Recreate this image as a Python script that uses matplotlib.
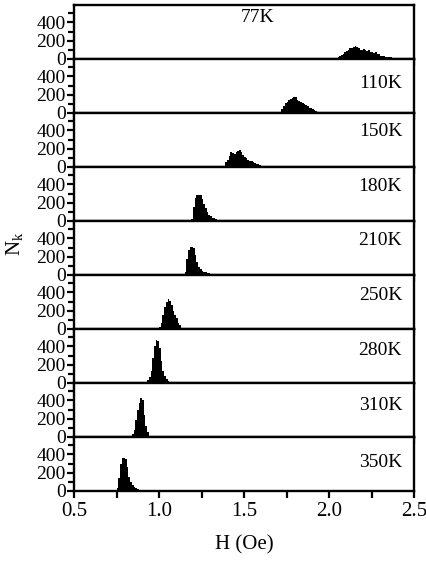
import numpy as np
import matplotlib
matplotlib.use("Agg")
import matplotlib.pyplot as plt
from matplotlib.ticker import MultipleLocator

plt.rcParams['font.family'] = ['Liberation Serif', 'DejaVu Serif']
plt.rcParams['mathtext.fontset'] = 'custom'
plt.rcParams['mathtext.rm'] = 'Liberation Serif'

# histograms of switching field, bin width 0.01 Oe, first bin left edge given
bin_w = 0.01
temps = ['77K', '110K', '150K', '180K', '210K', '250K', '280K', '310K', '350K']
starts = [2.02, 1.71, 1.38, 1.19, 1.15, 1.00, 0.93, 0.84, 0.75]

n_77 = [5, 10, 15, 25, 35, 45, 60, 75, 90, 100, 115, 125, 135, 140, 130, 120,
        100, 95, 105, 100, 90, 95, 80, 75, 70, 75, 60, 50, 35, 30, 30, 25, 25,
        20, 20, 15, 15, 12, 12, 10, 10, 8, 8, 5, 5]
n_110 = [10, 40, 75, 105, 125, 140, 150, 160, 170, 180, 140, 130, 118, 105,
         95, 85, 78, 60, 50, 40, 30, 22, 14, 6]
n_150 = [15, 50, 80, 120, 165, 150, 145, 160, 175, 185, 165, 130, 110, 100,
         80, 70, 60, 55, 42, 35, 30, 25, 15, 8]
n_180 = [20, 150, 255, 284, 284, 280, 240, 190, 140, 100, 70, 50, 35, 28, 22,
         16, 10, 6]
n_210 = [30, 180, 270, 310, 310, 290, 220, 145, 90, 60, 40, 30, 28, 25, 20,
         15, 10, 6]
n_250 = [20, 60, 150, 240, 300, 330, 310, 260, 200, 150, 120, 70, 40]
n_280 = [30, 60, 130, 270, 400, 465, 460, 380, 240, 130, 75, 45, 25, 10]
n_310 = [30, 80, 190, 300, 375, 425, 400, 240, 120, 50, 15]
n_350 = [30, 140, 300, 360, 365, 350, 260, 155, 100, 65, 45, 30, 18, 8]
counts = [n_77, n_110, n_150, n_180, n_210, n_250, n_280, n_310, n_350]

# label placement (axes fraction)
lab_x = [0.54, 0.965, 0.965, 0.965, 0.965, 0.965, 0.965, 0.965, 0.965]
lab_y = [0.76, 0.55, 0.65, 0.64, 0.64, 0.62, 0.61, 0.59, 0.52]

fig, axes = plt.subplots(9, 1, sharex=True, figsize=(4.27, 5.61), dpi=100)
fig.subplots_adjust(left=0.1733, right=0.9696, top=0.9911, bottom=0.1248, hspace=0)

for i, ax in enumerate(axes):
    c = np.array(counts[i])
    edges = starts[i] + bin_w * np.arange(len(c) + 1)
    ax.stairs(c, edges, fill=True, color='black', linewidth=0)
    ax.set_xlim(0.5, 2.5)
    ax.set_ylim(0, 590)
    ax.yaxis.set_major_locator(MultipleLocator(200))
    ax.yaxis.set_minor_locator(MultipleLocator(100))
    ax.xaxis.set_major_locator(MultipleLocator(0.5))
    ax.xaxis.set_minor_locator(MultipleLocator(0.25))
    ax.tick_params(axis='y', which='major', direction='out', length=5, width=1.6,
                   labelsize=14, pad=1)
    ax.tick_params(axis='y', which='minor', direction='out', length=4, width=1.6)
    ax.tick_params(axis='x', which='both', direction='out', length=5, width=1.6,
                   labelsize=15, pad=3)
    for s in ax.spines.values():
        s.set_linewidth(1.7)
    ax.text(lab_x[i], lab_y[i], temps[i], transform=ax.transAxes, fontsize=14,
            ha='center' if i == 0 else 'right', va='center')

axes[-1].xaxis.set_major_formatter(plt.FormatStrFormatter('%.1f'))

fig.text(0.035, 0.565, r'N$_\mathregular{k}$', rotation=90, fontsize=15,
         ha='center', va='center')
fig.text(0.571, 0.028, 'H (Oe)', fontsize=15, ha='center', va='center')

fig.savefig('out.png', dpi=100)
